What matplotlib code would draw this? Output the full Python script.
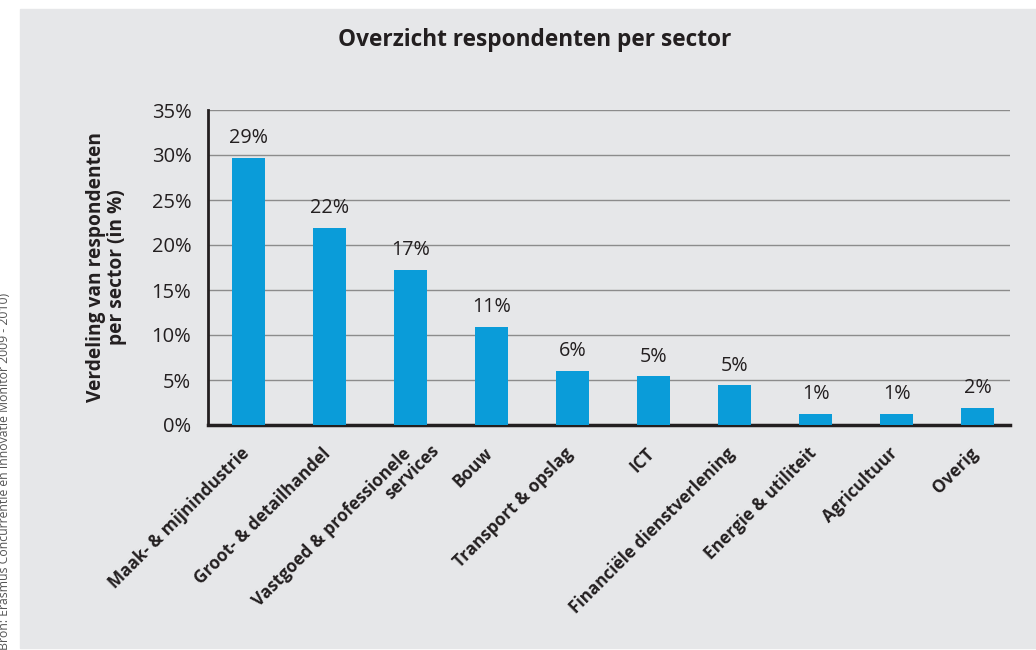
import numpy as np
import matplotlib.pyplot as plt
from matplotlib.transforms import ScaledTranslation

sectors = ['Maak- & mijnindustrie', 'Groot- & detailhandel',
           'Vastgoed & professionele     \nservices', 'Bouw', 'Transport & opslag',
           'ICT', 'Financiële dienstverlening', 'Energie & utiliteit',
           'Agricultuur', 'Overig']
share = [29.7, 21.9, 17.2, 10.9, 6.0, 5.4, 4.4, 1.2, 1.2, 1.9]
share_labels = ['29%', '22%', '17%', '11%', '6%', '5%', '5%', '1%', '1%', '2%']
yticks = [0, 5, 10, 15, 20, 25, 30, 35]

plt.rcParams['font.family'] = ['Open Sans', 'DejaVu Sans']

bg = '#e6e7e9'
blue = '#0a9cd9'
txt = '#231f20'

fig = plt.figure(figsize=(10.36, 6.5), dpi=100)
fig.patch.set_facecolor('white')
# grey panel behind everything
panel = plt.Rectangle((20 / 1036, 0.003), 1, 1 - 9 / 650 - 0.003,
                      transform=fig.transFigure, color=bg, zorder=-5)
fig.add_artist(panel)

ax = fig.add_axes([208 / 1036, 1 - 425 / 650, 802 / 1036, 315 / 650])
ax.set_facecolor(bg)
x = np.arange(len(sectors))
ax.bar(x, share, width=0.41, color=blue, zorder=3)
for xi, v, lab in zip(x, share, share_labels):
    ax.annotate(lab, (xi, v), xytext=(0, 7), textcoords='offset points',
                ha='center', va='bottom', fontsize=14.2, color=txt)

ax.set_xlim(-0.5, 9.4)
ax.set_ylim(0, 35)
ax.set_yticks(yticks)
ax.set_yticklabels([f'{t}%' for t in yticks], fontsize=14.5, color=txt)
ax.yaxis.grid(True, color='#8c8c8c', linewidth=1, zorder=1)
ax.set_axisbelow(True)
ax.tick_params(axis='y', length=0, pad=12)
ax.tick_params(axis='x', length=0, pad=14)
ax.set_xticks(x)
ax.set_xticklabels(sectors, rotation=45, ha='right', rotation_mode='anchor',
                   fontsize=12.3, fontweight='bold', color=txt, linespacing=0.95)
# nudge the slanted labels a bit to the left
for i, lbl in enumerate(ax.get_xticklabels()):
    dx, dy = -6, 0
    if '\n' in sectors[i]:
        dx, dy = 5, 11   # two-line label sits higher, like the original
    lbl.set_transform(lbl.get_transform() +
                      ScaledTranslation(dx / 72, dy / 72, fig.dpi_scale_trans))

for s in ['top', 'right']:
    ax.spines[s].set_visible(False)
ax.spines['left'].set_linewidth(2)
ax.spines['left'].set_color(txt)
ax.spines['bottom'].set_linewidth(2.5)
ax.spines['bottom'].set_color(txt)

ax.set_ylabel('Verdeling van respondenten\nper sector (in %)', fontsize=13.8,
              fontweight='bold', color=txt, labelpad=18, linespacing=1.05)

fig.text(535 / 1036, 1 - 40 / 650, 'Overzicht respondenten per sector',
         ha='center', va='center', fontsize=16.3, fontweight='bold', color=txt)
fig.text(5 / 1036, 0, 'Bron: Erasmus Concurrentie en Innovatie Monitor 2009 - 2010)',
         rotation=90, ha='center', va='bottom', fontsize=8.8, color='#555555')

fig.savefig('out.png', dpi=100, facecolor=fig.get_facecolor())
